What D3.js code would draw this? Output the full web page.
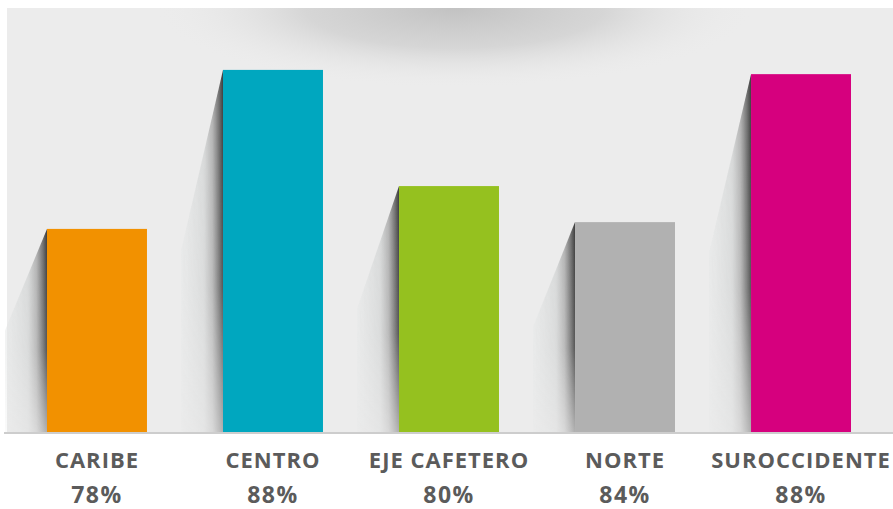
<!DOCTYPE html>
<html><head><meta charset="utf-8">
<script src="https://cdn.jsdelivr.net/npm/d3@7"></script>
<style>html,body{margin:0;padding:0;background:#fff;}svg{display:block;}</style>
</head><body>
<script>
const categories = ["CARIBE","CENTRO","EJE CAFETERO","NORTE","SUROCCIDENTE"];
const barValues = [47.9, 85.4, 58.0, 49.5, 84.4];
const pctLabels = ["78%","88%","80%","84%","88%"];
const colors = ["#f29100","#00a7bf","#95c11f","#b1b1b1","#d6007e"];

const W = 893, H = 509;
const svg = d3.select("body").append("svg").attr("width", W).attr("height", H);
const defs = svg.append("defs");

const panel = {x0: 7, y0: 8, x1: 893, base: 432};
const x = d3.scaleBand().domain(categories).range([47, 851]).paddingInner(0.432).paddingOuter(0);
const y = d3.scaleLinear().domain([0, 100]).range([panel.base, panel.y0]);

// panel background
svg.append("rect").attr("x", panel.x0).attr("y", panel.y0)
  .attr("width", panel.x1 - panel.x0).attr("height", panel.base - panel.y0).attr("fill", "#ececec");

// top radial shade
const rg = defs.append("radialGradient").attr("id", "topShade")
  .attr("cx", 0.5).attr("cy", 0.5).attr("r", 0.5);
rg.append("stop").attr("offset", 0).attr("stop-color", "#c2c2c2").attr("stop-opacity", 1);
rg.append("stop").attr("offset", 0.5).attr("stop-color", "#d2d2d2").attr("stop-opacity", 0.85);
rg.append("stop").attr("offset", 1).attr("stop-color", "#ececec").attr("stop-opacity", 0);
defs.append("clipPath").attr("id", "panelClip").append("rect")
  .attr("x", panel.x0).attr("y", panel.y0).attr("width", panel.x1 - panel.x0).attr("height", panel.base - panel.y0);
svg.append("g").attr("clip-path", "url(#panelClip)")
  .append("ellipse").attr("cx", 455).attr("cy", panel.y0).attr("rx", 300).attr("ry", 80)
  .attr("fill", "url(#topShade)");

// shadow gradients
const sg = defs.append("linearGradient").attr("id", "shadowH").attr("x1", 0).attr("x2", 1).attr("y1", 0).attr("y2", 0);
[[0, "#e6e8e8", 0.6], [0.55, "#d2d4d4", 0.8], [0.75, "#a8a8a8", 0.85], [0.9, "#6a6a6a", 0.95], [1, "#3c3c3c", 1]]
  .forEach(s => sg.append("stop").attr("offset", s[0]).attr("stop-color", s[1]).attr("stop-opacity", s[2]));
const mg = defs.append("linearGradient").attr("id", "shadowV").attr("x1", 0).attr("x2", 0).attr("y1", 0).attr("y2", 1);
mg.append("stop").attr("offset", 0).attr("stop-color", "#fff").attr("stop-opacity", 1);
mg.append("stop").attr("offset", 0.6).attr("stop-color", "#fff").attr("stop-opacity", 0.85);
mg.append("stop").attr("offset", 1).attr("stop-color", "#fff").attr("stop-opacity", 0.35);

const shadowW = 42;
const g = svg.append("g");
categories.forEach((c, i) => {
  const x0 = x(c), top = y(barValues[i]), base = y(0), h = base - top;
  const id = "m" + i;
  const m = defs.append("mask").attr("id", id).attr("maskContentUnits", "userSpaceOnUse");
  m.append("rect").attr("x", x0 - shadowW).attr("y", top).attr("width", shadowW).attr("height", h).attr("fill", "url(#shadowV)");
  g.append("path")
    .attr("d", `M${x0},${top} L${x0 - shadowW},${top + h / 2} L${x0 - shadowW},${base} L${x0},${base} Z`)
    .attr("fill", "url(#shadowH)").attr("mask", `url(#${id})`);
});

// bars
svg.append("g").selectAll("rect").data(categories).join("rect")
  .attr("x", d => x(d)).attr("y", (d, i) => y(barValues[i]))
  .attr("width", x.bandwidth()).attr("height", (d, i) => y(0) - y(barValues[i]))
  .attr("fill", (d, i) => colors[i]);

// baseline
svg.append("line").attr("x1", 4).attr("x2", W).attr("y1", panel.base + 1).attr("y2", panel.base + 1)
  .attr("stroke", "#cdcdcd").attr("stroke-width", 2);

// labels
const lab = svg.append("g").attr("font-family", "'Open Sans', sans-serif").attr("font-weight", 700)
  .attr("fill", "#5b5b5b").attr("text-anchor", "middle");
lab.selectAll("text.cat").data(categories).join("text").attr("class", "cat")
  .attr("x", d => x(d) + x.bandwidth() / 2).attr("y", 468).attr("font-size", 22)
  .attr("letter-spacing", 1).text(d => d);
lab.selectAll("text.pct").data(pctLabels).join("text").attr("class", "pct")
  .attr("x", (d, i) => x(categories[i]) + x.bandwidth() / 2).attr("y", 503).attr("font-size", 23)
  .attr("letter-spacing", 1.5).text(d => d);
</script>
</body></html>
